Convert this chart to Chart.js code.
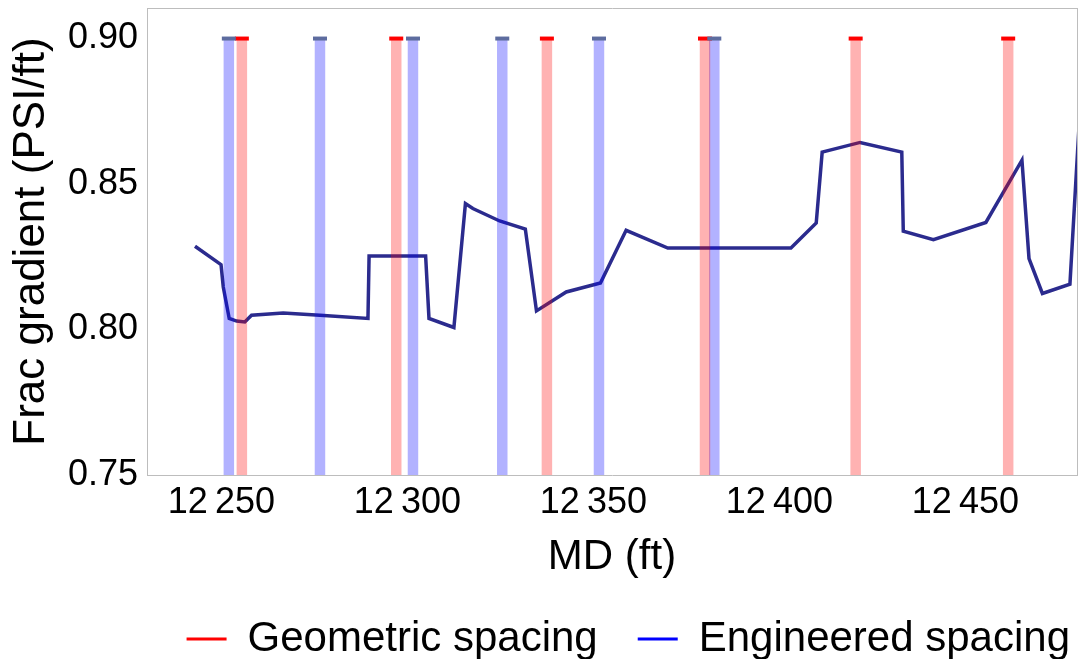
<!DOCTYPE html>
<html>
<head>
<meta charset="utf-8">
<script src="https://cdn.jsdelivr.net/npm/chart.js@4.4.1/dist/chart.umd.min.js"></script>
<style>
  html, body { margin: 0; padding: 0; background: #ffffff; }
  #wrap { width: 1080px; height: 659px; }
</style>
</head>
<body>
<div id="wrap"><canvas id="c" width="1080" height="659"></canvas></div>
<script>
// Measured depth (ft) and fracture gradient (psi/ft) along the lateral
const mdFt = [12242.9, 12249.9, 12250.5, 12252.1, 12254.1, 12256.3, 12258.1, 12266.6, 12276.5, 12289.4,
              12289.7, 12304.9, 12305.8, 12312.5, 12315.6, 12317.6, 12324.8, 12331.7, 12334.7, 12342.7,
              12351.9, 12358.8, 12370.0, 12403.1, 12409.9, 12411.5, 12421.7, 12432.9, 12433.3, 12441.4,
              12455.5, 12465.2, 12467.1, 12470.7, 12478.1, 12481.0];
const fracGrad = [0.8286, 0.8223, 0.8146, 0.8038, 0.8029, 0.8026, 0.8049, 0.8057, 0.8049, 0.8038,
                  0.8253, 0.8253, 0.8038, 0.8007, 0.8433, 0.8416, 0.8373, 0.8345, 0.8064, 0.8129,
                  0.8160, 0.8341, 0.8280, 0.8280, 0.8366, 0.8610, 0.8643, 0.8610, 0.8338, 0.8309,
                  0.8368, 0.8582, 0.8244, 0.8124, 0.8156, 0.8800];

// Perforation cluster depths for the two spacing designs (ft)
const geometricMd = [12255.5, 12297.0, 12337.5, 12380.0, 12420.5, 12461.5];
const engineeredMd = [12252.0, 12276.5, 12301.5, 12325.5, 12351.5, 12382.5];

// Cluster markers span this gradient range
const clusterFrom = 0.75;
const clusterTo = 0.90;

// Axis ranges and tick values
const xRange = [12230, 12480];
const yRange = [0.75, 0.9105];
const xTickValues = [12250, 12300, 12350, 12400, 12450];
const yTickValues = [0.75, 0.80, 0.85, 0.90];

const FONT = "'Liberation Sans', Arial, Helvetica, sans-serif";
const FRAME = '#bdbdbd';

// Each cluster becomes a vertical segment; a null point breaks the path between them
function clusterSegments(depths) {
  const pts = [];
  depths.forEach(d => {
    pts.push({ x: d, y: clusterFrom });
    pts.push({ x: d, y: clusterTo });
    pts.push({ x: d, y: null });
  });
  return pts;
}
function clusterCaps(depths) {
  return depths.map(d => ({ x: d, y: clusterTo }));
}

const formatMd = v => {
  const s = String(Math.round(v));
  return s.slice(0, s.length - 3) + '\u2009' + s.slice(-3);
};

// Keep the plot frame exactly where the axes put it (no extra label overhang)
const noOverhang = s => {
  s.paddingTop = 0; s.paddingBottom = 0; s.paddingLeft = 0; s.paddingRight = 0;
};

const ctx = document.getElementById('c').getContext('2d');
new Chart(ctx, {
  type: 'line',
  data: {
    datasets: [
      {
        label: 'Frac gradient',
        data: mdFt.map((x, i) => ({ x, y: fracGrad[i] })),
        borderColor: '#2b2b8e',
        borderWidth: 3.5,
        pointRadius: 0,
        tension: 0,
        fill: false,
        clip: 0,
        order: 3
      },
      {
        label: 'Geometric spacing',
        data: clusterSegments(geometricMd),
        borderColor: 'rgba(255, 0, 0, 0.30)',
        borderWidth: 10.5,
        borderCapStyle: 'butt',
        pointRadius: 0,
        spanGaps: false,
        order: 2
      },
      {
        label: 'Engineered spacing',
        data: clusterSegments(engineeredMd),
        borderColor: 'rgba(0, 0, 255, 0.30)',
        borderWidth: 10.5,
        borderCapStyle: 'butt',
        pointRadius: 0,
        spanGaps: false,
        order: 2
      },
      {
        label: 'Geometric caps',
        type: 'scatter',
        data: clusterCaps(geometricMd),
        pointStyle: 'line',
        pointRadius: 7,
        pointBorderWidth: 4,
        pointBorderColor: '#ff0000',
        pointBackgroundColor: '#ff0000',
        order: 1
      },
      {
        label: 'Engineered caps',
        type: 'scatter',
        data: clusterCaps(engineeredMd),
        pointStyle: 'line',
        pointRadius: 7,
        pointBorderWidth: 4,
        pointBorderColor: '#5d6c9f',
        pointBackgroundColor: '#5d6c9f',
        order: 0
      }
    ]
  },
  options: {
    responsive: false,
    animation: false,
    devicePixelRatio: 1,
    layout: { autoPadding: false, padding: { left: 0, right: -30, top: 0, bottom: 0 } },
    plugins: {
      tooltip: { enabled: false },
      legend: {
        display: true,
        position: 'bottom',
        align: 'end',
        maxHeight: 81,
        onClick: null,
        labels: {
          font: { family: FONT, size: 42 },
          color: '#000000',
          boxWidth: 40,
          boxHeight: 3,
          padding: 40,
          generateLabels: () => [
            { text: 'Geometric spacing', fillStyle: '#ff0000', strokeStyle: '#ff0000', lineWidth: 0, hidden: false, datasetIndex: 1 },
            { text: 'Engineered spacing', fillStyle: '#0000ff', strokeStyle: '#0000ff', lineWidth: 0, hidden: false, datasetIndex: 2 }
          ]
        }
      }
    },
    scales: {
      x: {
        type: 'linear',
        position: 'bottom',
        min: xRange[0],
        max: xRange[1],
        afterBuildTicks: s => { s.ticks = xTickValues.map(v => ({ value: v })); },
        afterFit: s => { s.height = 103; noOverhang(s); },
        grid: { display: false, drawTicks: false },
        border: { display: true, color: FRAME, width: 1 },
        ticks: {
          font: { family: FONT, size: 36 },
          color: '#000000',
          padding: 6,
          maxRotation: 0,
          autoSkip: false,
          callback: v => formatMd(v)
        },
        title: {
          display: true,
          text: 'MD (ft)',
          color: '#000000',
          font: { family: FONT, size: 42, lineHeight: 1 },
          padding: { top: 0, bottom: 0 }
        }
      },
      xTop: {
        type: 'linear',
        position: 'top',
        min: xRange[0],
        max: xRange[1],
        afterFit: s => { s.height = 8; noOverhang(s); },
        grid: { display: false, drawTicks: false },
        border: { display: true, color: FRAME, width: 1 },
        ticks: { display: false }
      },
      y: {
        type: 'linear',
        position: 'left',
        min: yRange[0],
        max: yRange[1],
        afterBuildTicks: s => { s.ticks = yTickValues.map(v => ({ value: v })); },
        afterFit: s => { s.width = 147; noOverhang(s); },
        grid: { display: false, drawTicks: false },
        border: { display: true, color: FRAME, width: 1 },
        ticks: {
          font: { family: FONT, size: 36 },
          color: '#000000',
          padding: 9,
          callback: v => Number(v).toFixed(2)
        },
        title: {
          display: true,
          text: 'Frac gradient (PSI/ft)',
          color: '#000000',
          font: { family: FONT, size: 44, lineHeight: 1 },
          padding: { top: 10, bottom: 0 }
        }
      },
      yRight: {
        type: 'linear',
        position: 'right',
        min: yRange[0],
        max: yRange[1],
        afterFit: s => { s.width = 33; noOverhang(s); },
        grid: { display: false, drawTicks: false },
        border: { display: true, color: FRAME, width: 1 },
        ticks: { display: false }
      }
    }
  }
});
</script>
</body>
</html>
